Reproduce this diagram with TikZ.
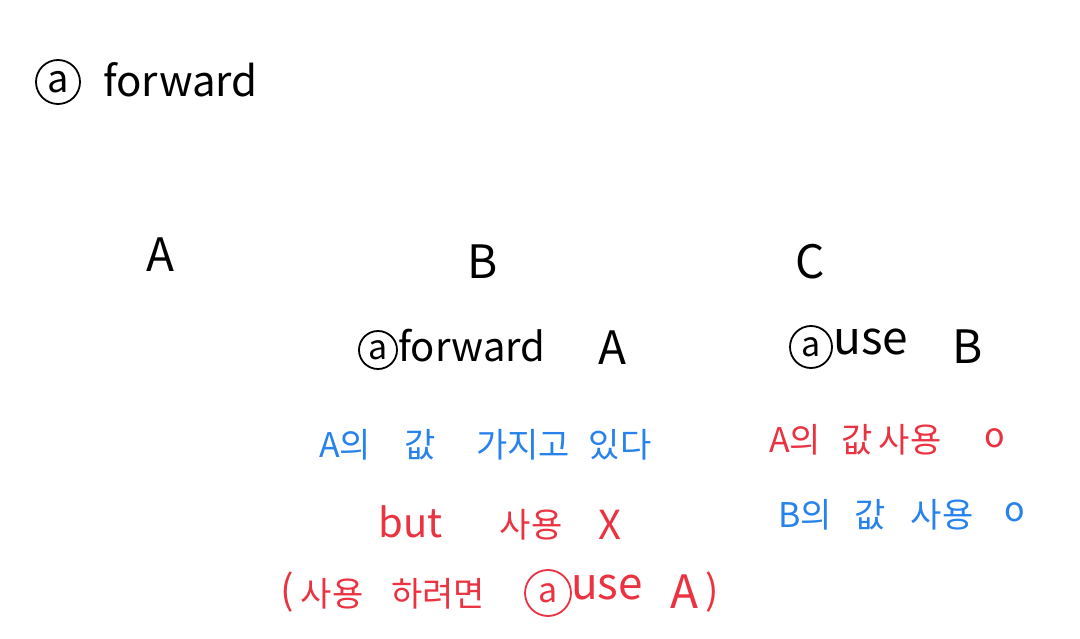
\documentclass[tikz,border=0pt]{standalone}
\usepackage{fontspec}
\newfontfamily\cjk{Noto Sans CJK KR}
\definecolor{hblue}{RGB}{40,130,235}
\definecolor{hred}{RGB}{235,50,65}
\begin{document}
\begin{tikzpicture}[x=1pt,y=-1pt,
  txt/.style={font=\cjk\fontsize{34}{38}\selectfont, inner sep=0pt},
  lat/.style={font=\cjk\fontsize{40}{46}\selectfont, inner sep=0pt},
  big/.style={font=\cjk\fontsize{46}{52}\selectfont, inner sep=0pt},
  circ/.style={draw, circle, line width=1.8pt, minimum size=38pt, inner sep=0pt, font=\cjk\fontsize{34}{38}\selectfont},
  bl/.style={text=hblue},
  rd/.style={text=hred}]
\useasboundingbox[fill=white] (0,0) rectangle (1080,639);
% title
\node[circ,minimum size=44pt,font=\cjk\fontsize{38}{42}\selectfont] (t1) at (58,82) {a};
\node[lat,anchor=west,font=\cjk\fontsize{42}{48}\selectfont] (t2) at (103,80) {forward};
% modules
\node[big] (mA) at (160,255) {A};
\node[big] (mB) at (483,262) {B};
\node[big] (mC) at (810,262) {C};
% B line
\node[circ] (b1) at (378,350) {a};
\node[lat,anchor=west] (b2) at (398,346) {forward};
\node[big] (b3) at (612,348) {A};
% C line
\node[circ,minimum size=42pt] (c1) at (811,347) {a};
\node[lat,anchor=west,font=\cjk\fontsize{46}{52}\selectfont] (c2) at (833,342) {use};
\node[big] (c3) at (968,347) {B};
% blue line
\node[txt,bl] (l1a) at (345,445) {A의};
\node[txt,bl] (l1b) at (420,445) {값};
\node[txt,bl] (l1c) at (523,445) {가지고};
\node[txt,bl] (l1d) at (620,445) {있다};
% red line 2
\node[lat,rd] (l2a) at (411,522) {but};
\node[txt,rd] (l2b) at (531,525) {사용};
\node[lat,rd] (l2c) at (610,525) {X};
% red line 3
\node[lat,rd] (l3a) at (287,592) {(};
\node[txt,rd] (l3b) at (332,594) {사용};
\node[txt,rd] (l3c) at (438,594) {하려면};
\node[circ,draw=hred,rd,minimum size=46pt] (l3d) at (548,593) {a};
\node[lat,rd,anchor=west,font=\cjk\fontsize{44}{50}\selectfont] (l3e) at (571,588) {use};
\node[big,rd] (l3f) at (684,592) {A};
\node[lat,rd] (l3g) at (712,592) {)};
% right red
\node[txt,rd] (r1a) at (795,440) {A의};
\node[txt,rd] (r1b) at (857,440) {값};
\node[txt,rd] (r1c) at (910,440) {사용};
\node[txt,rd] (r1d) at (995,438) {o};
% right blue
\node[txt,bl] (r2a) at (805,515) {B의};
\node[txt,bl] (r2b) at (870,515) {값};
\node[txt,bl] (r2c) at (942,515) {사용};
\node[txt,bl] (r2d) at (1015,512) {o};
\end{tikzpicture}
\end{document}
